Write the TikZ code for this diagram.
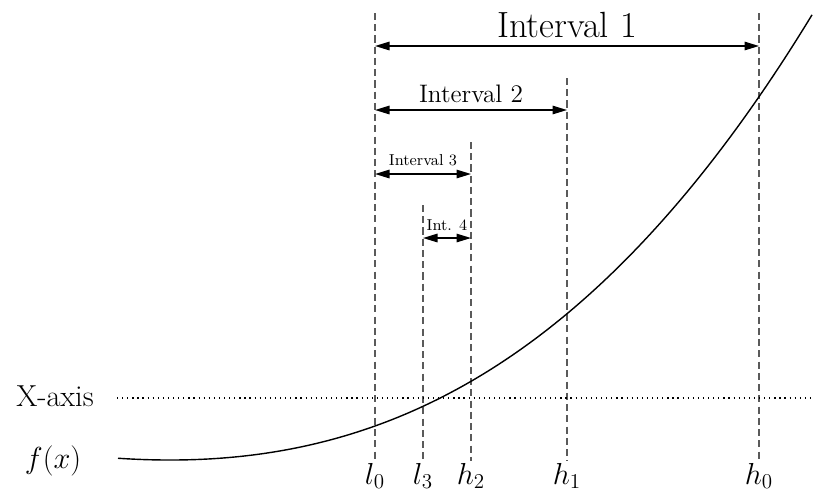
\documentclass[tikz,border=0pt]{standalone}
\usetikzlibrary{arrows.meta}
\definecolor{guidegray}{HTML}{5A5A5A}
\definecolor{ink}{HTML}{000000}
\tikzset{
  guide/.style={draw=guidegray, line width=1.1pt, dash pattern=on 4pt off 2.4pt},
  span/.style={{Triangle[length=2.9mm,width=1.7mm]}-{Triangle[length=2.9mm,width=1.7mm]}, draw=ink, line width=0.8pt},
  axisline/.style={draw=ink, line width=0.6pt, dash pattern=on 0.7pt off 2.2pt},
  fcurve/.style={draw=ink, line width=0.8pt},
  xlbl/.style={font=\LARGE, anchor=base, inner sep=1pt},
  spanlbl/.style={above=4pt, inner sep=0pt},
}
\begin{document}
\begin{tikzpicture}[x=0.02cm, y=-0.02cm]
\useasboundingbox (0,0) rectangle (813,491);
% points on the x axis
\node[xlbl] (l0) at (375,484) {$l_0$};
\node[xlbl] (l3) at (423,484) {$l_3$};
\node[xlbl] (h2) at (471,484) {$h_2$};
\node[xlbl] (h1) at (567,484) {$h_1$};
\node[xlbl] (h0) at (759,484) {$h_0$};
\coordinate (tl0) at (375,13);
\coordinate (tl3) at (423,205);
\coordinate (th2) at (471,142);
\coordinate (th1) at (567,78);
\coordinate (th0) at (759,13);
\foreach \t/\b in {tl0/l0,tl3/l3,th2/h2,th1/h1,th0/h0} {\draw[guide] (\t) -- (\b);}

% nested intervals
\coordinate (a1l) at (375,46);  \coordinate (a1r) at (759,46);
\coordinate (a2l) at (375,110); \coordinate (a2r) at (567,110);
\coordinate (a3l) at (375,174); \coordinate (a3r) at (471,174);
\coordinate (a4l) at (423,238); \coordinate (a4r) at (471,238);
\draw[span] (a1l) -- node[spanlbl, font=\huge] (i1) {Interval 1} (a1r);
\draw[span] (a2l) -- node[spanlbl, font=\Large] (i2) {Interval 2} (a2r);
\draw[span] (a3l) -- node[spanlbl, font=\small] (i3) {Interval 3} (a3r);
\draw[span] (a4l) -- node[spanlbl, font=\small] (i4) {Int. 4} (a4r);

% axis and function
\node[font=\LARGE] (xaxis) at (55,396) {X-axis};
\node[font=\LARGE] (fx) at (53,461) {$f(x)$};
\coordinate (ax0) at (117,398);
\coordinate (ax1) at (813,398);
\draw[axisline] (ax0) -- (ax1);
\draw[fcurve] plot[domain=118:812, samples=120, smooth]
  (\x, {460 - 6.82*((\x-170)/100)^2 - 0.62*((\x-170)/100)^3});
\end{tikzpicture}
\end{document}
